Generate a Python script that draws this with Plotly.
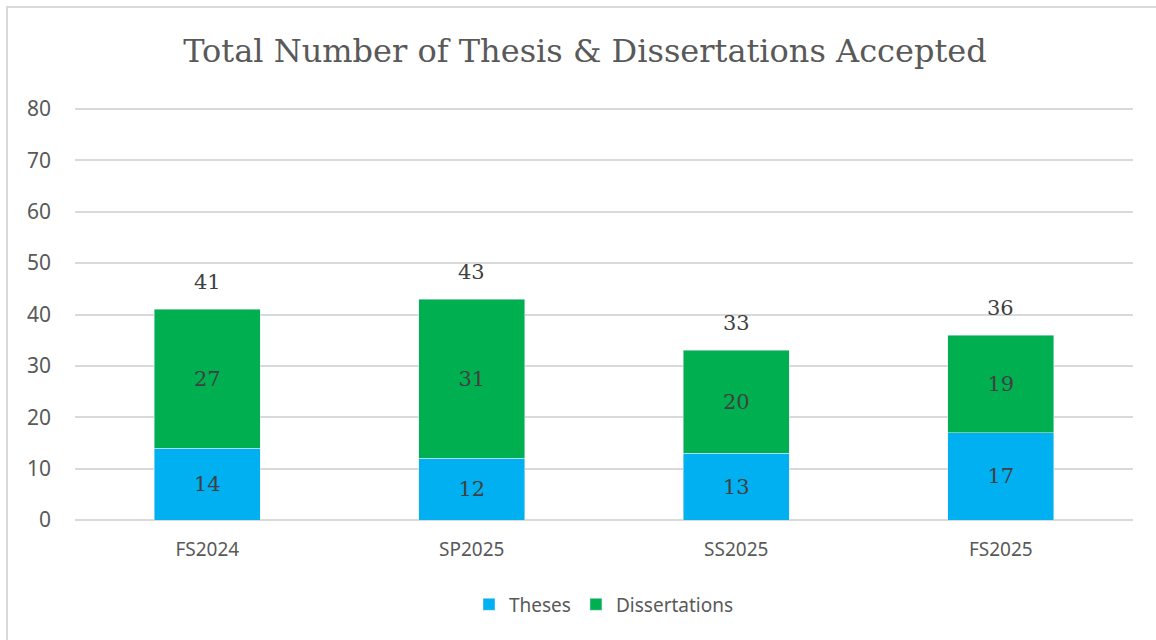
import plotly.graph_objects as go

# data
terms = ['FS2024', 'SP2025', 'SS2025', 'FS2025']
theses = [14, 12, 13, 17]
dissertations = [27, 31, 20, 19]
totals = [t + d for t, d in zip(theses, dissertations)]

label_font = dict(family='DejaVu Serif', size=21, color='#404040')

fig = go.Figure()
fig.add_trace(go.Bar(x=terms, y=theses, name='Theses', marker_color='#00B0F0',
                     text=theses, textposition='inside', insidetextanchor='middle',
                     textfont=label_font))
fig.add_trace(go.Bar(x=terms, y=dissertations, name='Dissertations', marker_color='#00B050',
                     text=dissertations, textposition='inside', insidetextanchor='middle',
                     textfont=label_font))

# totals above the stacks
for term, tot in zip(terms, totals):
    fig.add_annotation(x=term, y=tot, text=str(tot), showarrow=False,
                       yanchor='middle', yshift=27, font=label_font)

fig.update_layout(
    width=1156, height=640,
    barmode='stack', bargap=0.6,
    plot_bgcolor='white', paper_bgcolor='white',
    margin=dict(l=75, r=23, t=108, b=120),
    title=dict(text='Total Number of Thesis & Dissertations Accepted',
               x=0.506, xref='container', xanchor='center', y=0.92, yanchor='middle',
               font=dict(family='DejaVu Serif', size=32, color='#595959')),
    legend=dict(orientation='h', x=0.5, xanchor='center', y=-0.205, yanchor='middle',
                font=dict(family='Noto Sans', size=19, color='#595959'),
                traceorder='normal'),
    font=dict(family='Noto Sans', size=19, color='#595959'),
    uniformtext=dict(mode='show', minsize=10),
)
fig.update_yaxes(range=[0, 80.2], tickvals=[0, 10, 20, 30, 40, 50, 60, 70, 80],
                 showgrid=True, gridcolor='#D9D9D9', gridwidth=1.5,
                 zeroline=True, zerolinecolor='#D9D9D9', zerolinewidth=1.5,
                 tickfont=dict(family='Noto Sans', size=21, color='#595959'),
                 ticks='', ticklabelstandoff=23)
fig.update_xaxes(showgrid=False, showline=False, ticks='', ticklabelstandoff=16,
                 tickfont=dict(family='Noto Sans', size=19, color='#595959'))

# outer chart border (left and top edges visible)
fig.add_shape(type='rect', xref='paper', yref='paper',
              x0=(7 - 75) / 1058, x1=(1170 - 75) / 1058,
              y0=(520 - 660) / 412, y1=(520 - 7) / 412,
              line=dict(color='#D9D9D9', width=2), fillcolor='rgba(0,0,0,0)', layer='below')

fig.write_html('out.html', config={'displayModeBar': False},
               post_script="document.body.style.margin='0';")
